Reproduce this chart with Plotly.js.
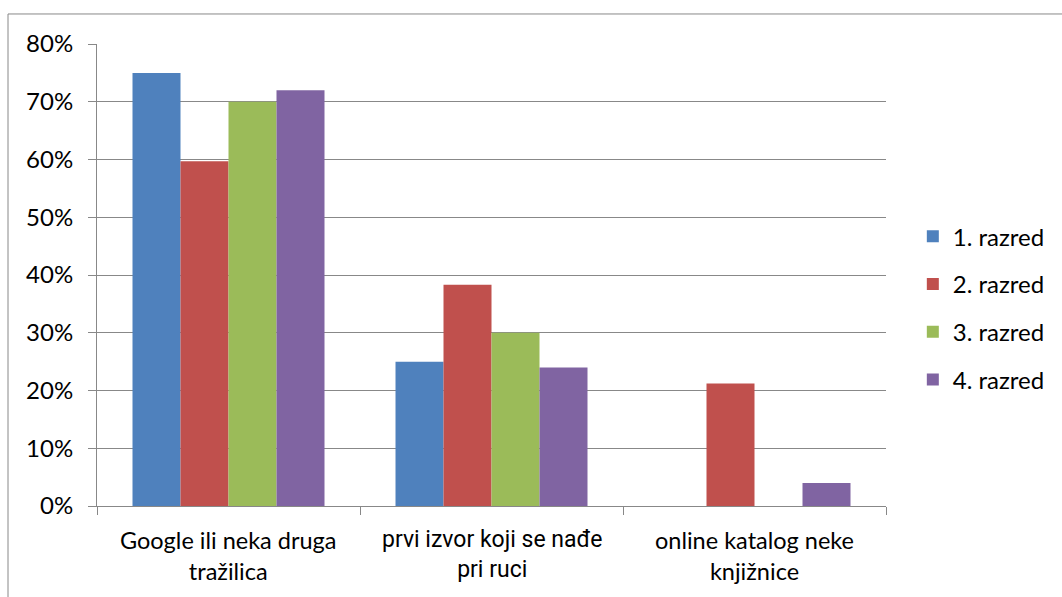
<!DOCTYPE html>
<html>
<head>
<meta charset="utf-8">
<script src="https://cdn.plot.ly/plotly-3.0.1.min.js"></script>
<style>html,body{margin:0;padding:0;background:#fff;}#chart{width:1062px;height:597px;}</style>
</head>
<body>
<div id="chart"></div>
<script>
const categories = ["Google ili neka druga<br>tražilica", "prvi izvor koji se nađe<br>pri ruci", "online katalog neke<br>knjižnice"];
const seriesNames = ["1. razred", "2. razred", "3. razred", "4. razred"];
const razred1 = [0.75, 0.25, 0];
const razred2 = [0.597, 0.383, 0.212];
const razred3 = [0.70, 0.30, 0];
const razred4 = [0.72, 0.24, 0.04];
const yTickVals = [0, 0.1, 0.2, 0.3, 0.4, 0.5, 0.6, 0.7, 0.8];
const colors = ["#4F81BD", "#C0504D", "#9BBB59", "#8064A2"];

const allSeries = [razred1, razred2, razred3, razred4];
const traces = allSeries.map((vals, i) => ({
  type: "bar",
  x: categories,
  y: vals,
  name: seriesNames[i],
  legendgroup: "g" + i,
  marker: {color: colors[i], line: {width: 0}},
  hoverinfo: "skip"
}));

// category labels drawn as annotations so the middle one can use its own font (as in the original)
const labelFonts = [
  {family: "Lato", size: 23.5, color: "#000"},
  {family: "Roboto", size: 23, color: "#000"},
  {family: "Lato", size: 23.5, color: "#000"}
];
const annotations = categories.map((c, i) => ({
  x: c, xref: "x", y: 0, yref: "paper", yanchor: "top", xanchor: "center",
  yshift: -18, text: c, showarrow: false, font: labelFonts[i], align: "center"
}));

const layout = {
  width: 1062, height: 597,
  margin: {l: 97, r: 176, t: 44, b: 91, autoexpand: false},
  paper_bgcolor: "#fff", plot_bgcolor: "#fff",
  font: {family: "Lato", color: "#000", size: 20},
  barmode: "group", bargap: 0.27, bargroupgap: 0,
  showlegend: true,
  legend: {x: 1.034, xanchor: "left", y: 0.428, yanchor: "middle",
           font: {size: 24, family: "Lato"}, tracegroupgap: 13.5,
           itemwidth: 30, bgcolor: "rgba(0,0,0,0)"},
  xaxis: {type: "category", showgrid: false, showline: true, linecolor: "#888", linewidth: 1,
          ticks: "outside", tickson: "boundaries", ticklen: 8, tickcolor: "#888",
          showticklabels: false, automargin: false},
  yaxis: {range: [0, 0.8], tickvals: yTickVals, tickformat: ".0%", showgrid: true,
          gridcolor: "#888", gridwidth: 1, showline: true, linecolor: "#888", linewidth: 1,
          ticks: "outside", ticklen: 8, tickcolor: "#888", zeroline: false,
          ticklabelstandoff: 10,
          tickfont: {size: 24, family: "Lato"}, automargin: false},
  annotations: annotations,
  shapes: [{type: "rect", xref: "paper", yref: "paper",
            x0: -0.1128, x1: 1.233, y0: -0.225, y1: 1.065,
            line: {color: "#888", width: 1}, fillcolor: "rgba(0,0,0,0)", layer: "below"}]
};

Plotly.newPlot("chart", traces, layout, {displayModeBar: false, staticPlot: true});
</script>
</body>
</html>
